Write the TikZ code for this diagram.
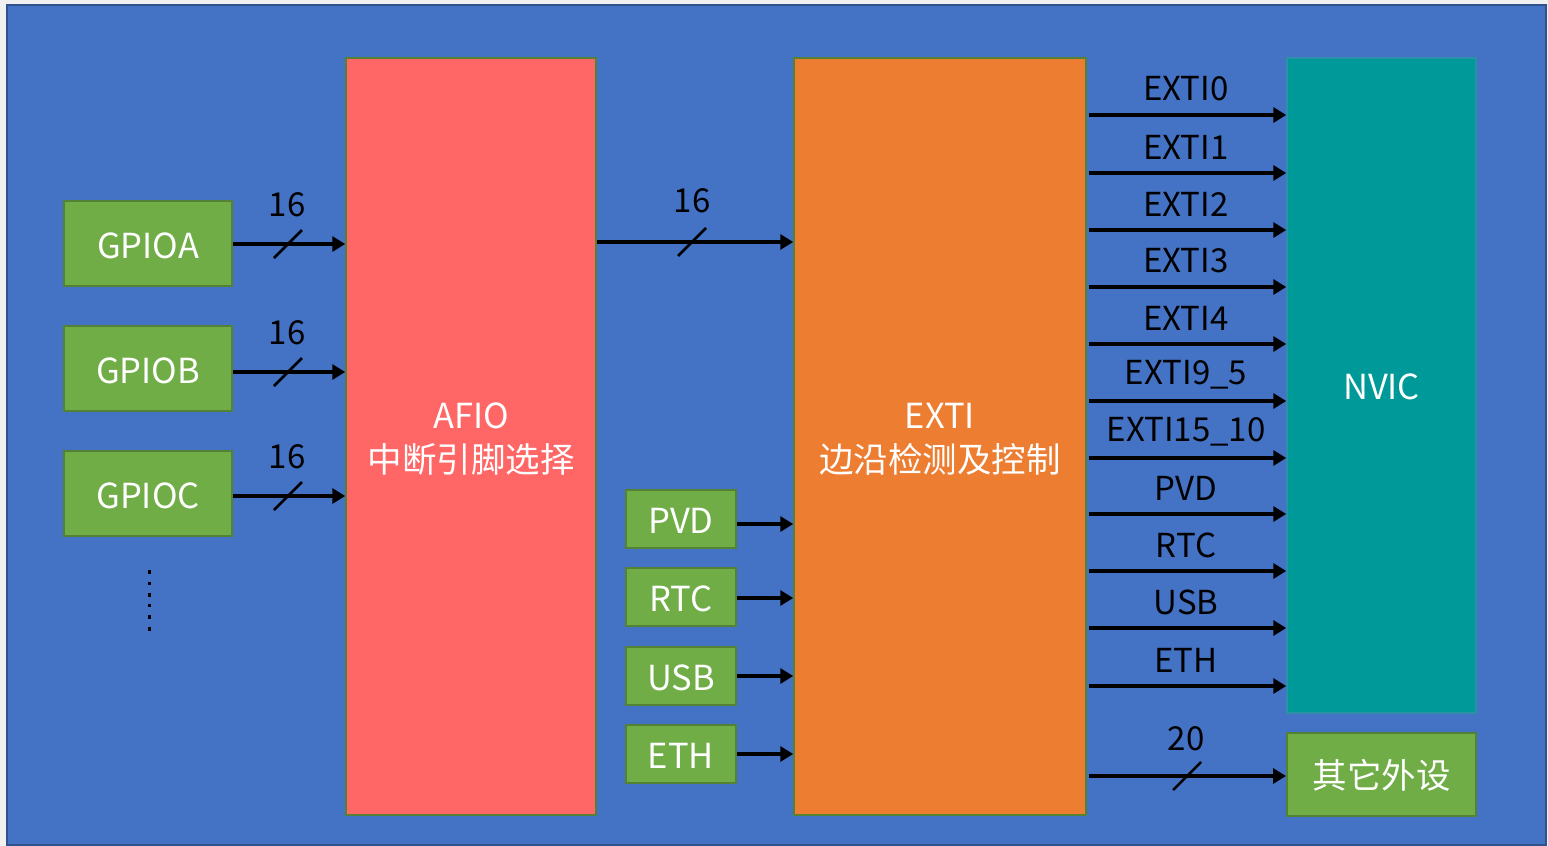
\documentclass[tikz,border=0pt]{standalone}
\usepackage{fontspec}
\setmainfont{Noto Sans CJK SC}
\usetikzlibrary{arrows.meta,calc}
\definecolor{bggray}{HTML}{F0F0F0}
\definecolor{bgblue}{HTML}{4472C4}
\definecolor{bgborder}{HTML}{2F528F}
\definecolor{gfill}{HTML}{70AD47}
\definecolor{gdraw}{HTML}{548235}
\definecolor{afiofill}{HTML}{FF6666}
\definecolor{extifill}{HTML}{ED7D31}
\definecolor{nvicfill}{HTML}{009999}
\definecolor{nvicdraw}{HTML}{2E8FA8}
\tikzset{
  gbox/.style={draw=gdraw, fill=gfill, line width=2pt, inner sep=0pt},
  bigbox/.style={draw=gdraw, line width=1.5pt, inner sep=0pt},
  boxtext/.style={text=white, inner sep=0pt, align=center, font=\fontsize{34.5}{44}\selectfont},
  arr/.style={line width=4pt, -{Triangle[length=13pt,width=15pt]}},
  slash/.style={line width=2.5pt},
  lbl/.style={text=black, inner sep=0pt, font=\fontsize{33}{38}\selectfont},
}
\begin{document}
\begin{tikzpicture}[x=1pt,y=-1pt]
\useasboundingbox (0,0) rectangle (1548,846);
\fill[bggray] (0,0) rectangle (1548,846);
\draw[fill=bgblue, draw=bgborder, line width=2pt] (7,5) rectangle (1546,845);

% left GPIO boxes
\node[gbox, minimum width=168pt, minimum height=85pt] (gpioa) at (148,243.5) {};
\node[gbox, minimum width=168pt, minimum height=85pt] (gpiob) at (148,368.5) {};
\node[gbox, minimum width=168pt, minimum height=85pt] (gpioc) at (148,493.5) {};
\node[boxtext] (gpioat) at ([yshift=-2pt]gpioa.center) {GPIOA};
\node[boxtext] (gpiobt) at ([yshift=-2pt]gpiob.center) {GPIOB};
\node[boxtext] (gpioct) at ([yshift=-2pt]gpioc.center) {GPIOC};

% dots
\foreach \yy in {572,583.5,595,605.5,617,629}
  \fill[black] (147.5,\yy-2) rectangle (151,\yy+1.5);

% AFIO and EXTI
\node[bigbox, fill=afiofill, minimum width=250pt, minimum height=757pt] (afio) at (471,436.5) {};
\node[bigbox, fill=extifill, minimum width=292pt, minimum height=757pt] (exti) at (940,436.5) {};
\node[boxtext] (afiot) at ([yshift=-3pt]afio.center) {AFIO\\中断引脚选择};
\node[boxtext] (extit) at ([yshift=-3pt]exti.center) {EXTI\\边沿检测及控制};

% NVIC and other
\node[bigbox, draw=nvicdraw, fill=nvicfill, minimum width=189pt, minimum height=655pt] (nvic) at (1381.5,385.5) {};
\node[boxtext] (nvict) at ([yshift=-1pt]nvic.center) {NVIC};
\node[gbox, minimum width=189pt, minimum height=83pt] (other) at (1381.5,774.5) {};
\node[boxtext] (othert) at ([yshift=-1pt]other.center) {其它外设};

% small source boxes
\node[gbox, minimum width=110pt, minimum height=58pt] (pvd) at (681,519) {};
\node[gbox, minimum width=110pt, minimum height=58pt] (rtc) at (681,597) {};
\node[gbox, minimum width=110pt, minimum height=58pt] (usb) at (681,676) {};
\node[gbox, minimum width=110pt, minimum height=58pt] (eth) at (681,754) {};
\node[boxtext] (pvdt) at ([yshift=-2pt]pvd.center) {PVD};
\node[boxtext] (rtct) at ([yshift=-2pt]rtc.center) {RTC};
\node[boxtext] (usbt) at ([yshift=-2pt]usb.center) {USB};
\node[boxtext] (etht) at ([yshift=-2pt]eth.center) {ETH};

% GPIO -> AFIO
\foreach \n/\yy in {gpioa/244, gpiob/372, gpioc/496}{
  \draw[arr] (\n.east |- {0,\yy}) -- (afio.west |- {0,\yy});
  \draw[slash] (274,\yy+14) -- (302,\yy-14);
  \node[lbl] at (287,\yy-39) {16};
}

% AFIO -> EXTI
\draw[arr] (afio.east |- {0,242}) -- (exti.west |- {0,242});
\draw[slash] (678,256) -- (706,228);
\node[lbl] at (692,201) {16};

% small boxes -> EXTI
\draw[arr] (pvd.east |- {0,524}) -- (exti.west |- {0,524});
\draw[arr] (rtc.east |- {0,598}) -- (exti.west |- {0,598});
\draw[arr] (usb.east |- {0,676}) -- (exti.west |- {0,676});
\draw[arr] (eth.east |- {0,754}) -- (exti.west |- {0,754});

% EXTI -> NVIC
\foreach \t/\yy in {EXTI0/115, EXTI1/173, EXTI2/230, EXTI3/287, EXTI4/344, EXTI9\_5/401, EXTI15\_10/458, PVD/514, RTC/571, USB/628, ETH/686}{
  \draw[arr] ([xshift=2pt]exti.east |- {0,\yy}) -- (nvic.west |- {0,\yy});
  \node[lbl] at (1186,\yy-26) {\t};
}

% EXTI -> other
\draw[arr] ([xshift=2pt]exti.east |- {0,776}) -- (other.west |- {0,776});
\draw[slash] (1173,790) -- (1201,762);
\node[lbl] at (1186,739) {20};
\end{tikzpicture}
\end{document}
